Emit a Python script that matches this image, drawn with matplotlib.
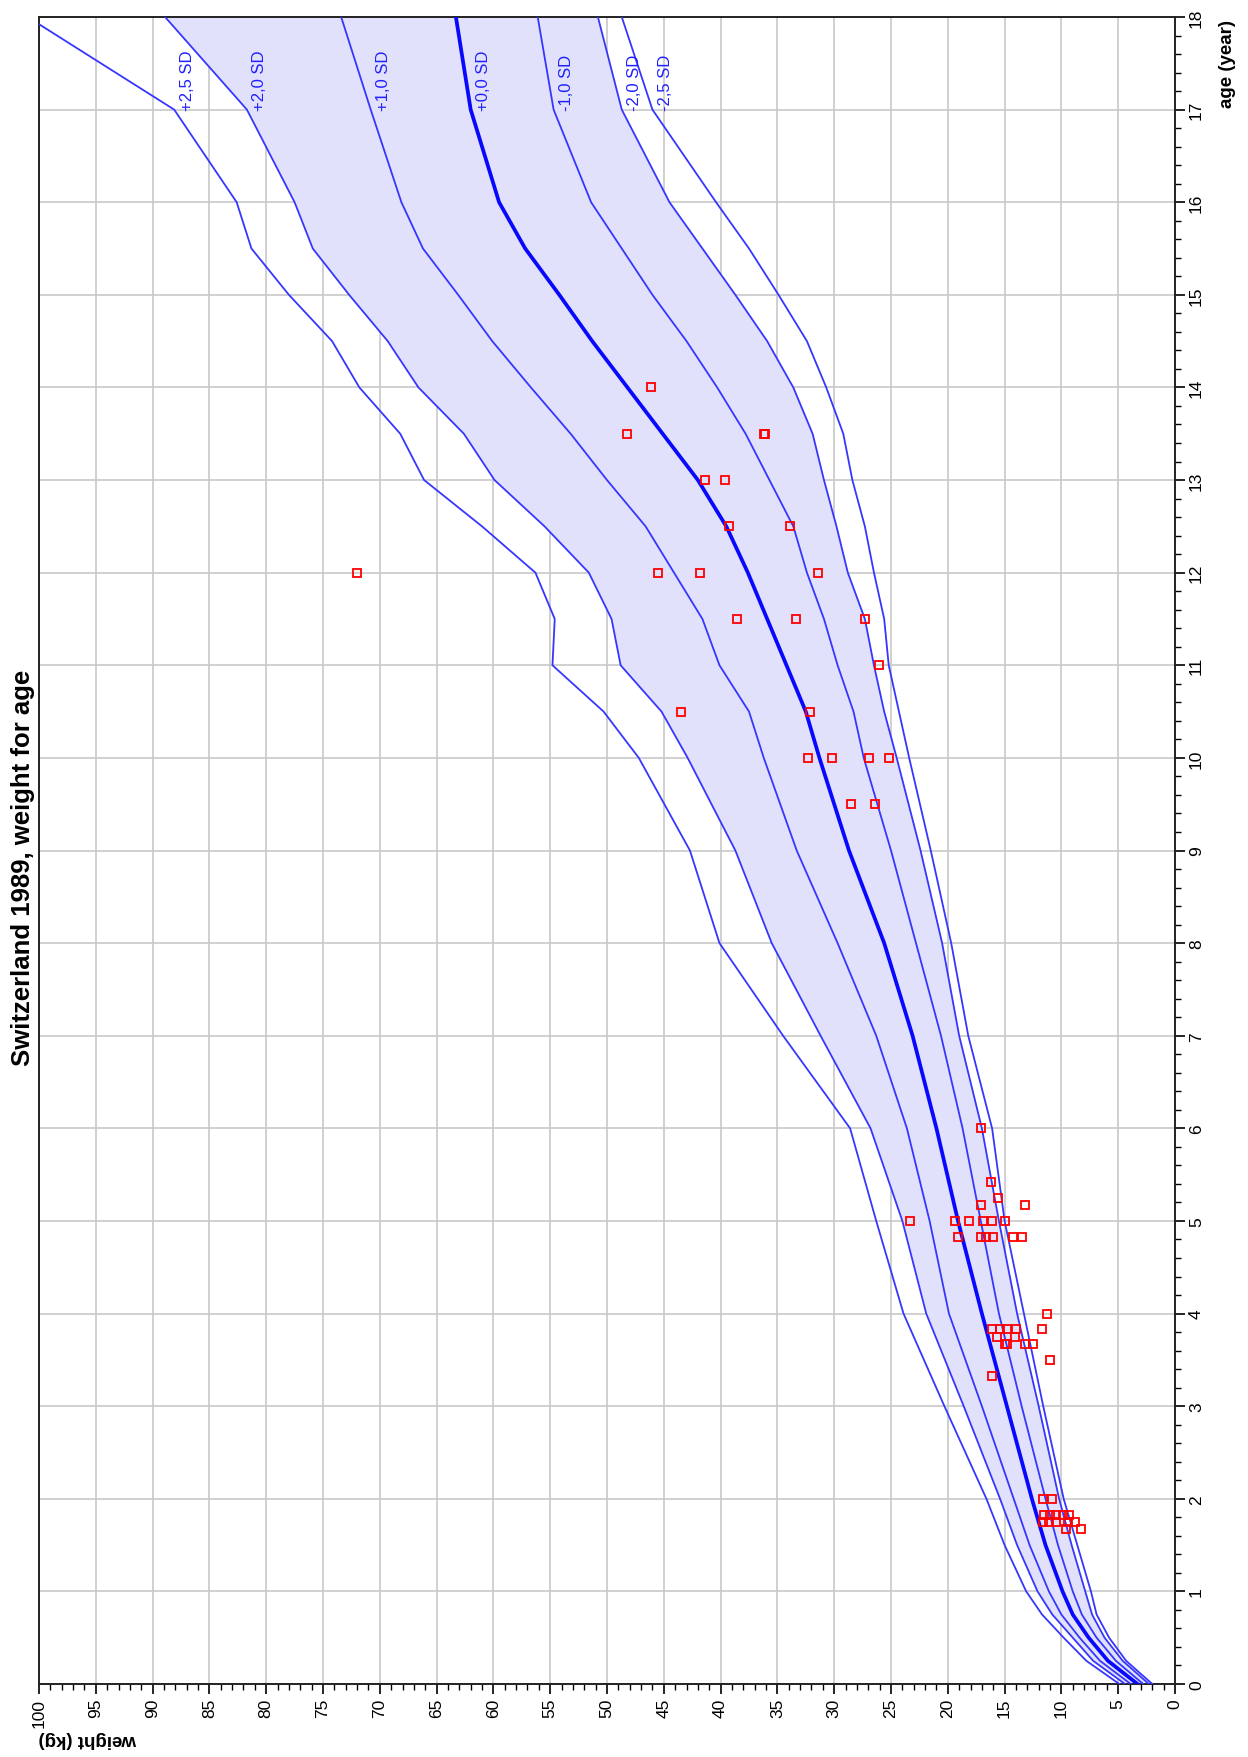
import matplotlib.pyplot as plt
from matplotlib.ticker import MultipleLocator

plt.rcParams['font.family'] = ['Liberation Sans', 'DejaVu Sans']

# reference ages (years)
ages = [0, 0.25, 0.5, 0.75, 1, 1.5, 2, 3, 4, 5, 6, 7, 8, 9, 10, 10.5, 11, 11.5,
        12, 12.5, 13, 13.5, 14, 14.5, 15, 15.5, 16, 17, 18]

# reference weights (kg) for each SD curve
sd_p25 = [4.9, 7.8, 9.8, 11.7, 13.1, 15.0, 16.6, 20.3, 23.9, 26.3, 28.6, 34.5, 40.1, 42.7, 47.2, 50.3, 54.8, 54.6,
          56.3, 61.0, 66.1, 68.2, 71.8, 74.2, 78.0, 81.3, 82.6, 88.1, 101.0]
sd_p20 = [4.4, 7.2, 9.0, 10.8, 12.1, 13.9, 15.4, 18.6, 21.9, 24.0, 26.8, 31.2, 35.5, 38.7, 42.9, 45.2, 48.8, 49.6,
          51.6, 55.5, 59.9, 62.6, 66.6, 69.3, 72.7, 75.9, 77.5, 81.7, 88.9]
sd_p10 = [3.9, 6.6, 8.4, 10.0, 11.1, 12.8, 14.2, 17.0, 19.9, 21.6, 23.6, 26.3, 29.7, 33.3, 36.2, 37.5, 40.1, 41.6,
          44.1, 46.6, 50.0, 53.2, 56.7, 60.1, 63.1, 66.2, 68.1, 70.8, 73.4]
sd_00 = [3.3, 5.9, 7.6, 9.0, 9.9, 11.4, 12.6, 14.8, 17.0, 19.1, 21.0, 23.1, 25.6, 28.7, 31.3, 32.5, 34.2, 35.9,
         37.6, 39.5, 42.0, 45.1, 48.2, 51.3, 54.2, 57.2, 59.5, 62.0, 63.3]
sd_m10 = [2.8, 5.2, 6.9, 8.2, 9.0, 10.3, 11.4, 13.5, 15.5, 17.1, 18.7, 20.6, 22.8, 25.0, 27.4, 28.3, 29.7, 30.9,
          32.4, 33.6, 35.7, 37.8, 40.3, 43.0, 46.0, 48.7, 51.4, 54.7, 56.1]
sd_m20 = [2.3, 4.6, 6.2, 7.3, 7.9, 9.1, 10.2, 12.0, 13.9, 15.5, 17.0, 19.0, 20.5, 22.4, 24.5, 25.6, 26.5, 27.3,
          28.8, 29.8, 30.9, 31.9, 33.6, 35.9, 38.7, 41.6, 44.5, 48.7, 50.8]
sd_m25 = [2.0, 4.3, 5.8, 6.9, 7.4, 8.6, 9.8, 11.6, 13.3, 15.0, 16.1, 18.2, 19.7, 21.5, 23.4, 24.3, 25.2, 25.6,
          26.5, 27.3, 28.4, 29.2, 30.7, 32.4, 34.9, 37.5, 40.4, 46.0, 48.7]

sd_labels = ['+2,5 SD', '+2,0 SD', '+1,0 SD', '+0,0 SD', '-1,0 SD', '-2,0 SD', '-2,5 SD']

# measured children
pt_age = [14, 13.5, 13.5, 13.5, 13, 13, 12.5, 12.5, 12, 12, 12, 12, 11.5, 11.5, 11.5, 11,
          10.5, 10.5, 10, 10, 10, 10, 9.5, 9.5,
          6, 5.42, 5.25, 5.17, 5.17, 5, 5, 5, 5, 5, 5,
          4.83, 4.83, 4.83, 4.83, 4.83, 4.83,
          4, 3.83, 3.83, 3.83, 3.83, 3.83, 3.75, 3.75, 3.67, 3.67, 3.67, 3.67, 3.5, 3.33,
          2, 2, 1.83, 1.83, 1.83, 1.83, 1.83, 1.75, 1.75, 1.75, 1.75, 1.75, 1.67, 1.67]
pt_weight = [46.1, 48.2, 36.2, 36.1, 41.4, 39.6, 39.3, 33.9, 72.0, 45.5, 41.8, 31.4, 38.6, 33.4, 27.3, 26.1,
             43.5, 32.1, 32.3, 30.2, 26.9, 25.2, 28.5, 26.4,
             17.1, 16.2, 15.6, 17.1, 13.2, 23.3, 19.4, 18.1, 16.9, 16.1, 15.0,
             19.1, 17.1, 16.6, 16.0, 14.3, 13.5,
             11.3, 16.1, 15.4, 14.8, 14.0, 11.7, 15.7, 14.1, 15.0, 14.8, 13.2, 12.5, 11.0, 16.1,
             11.6, 10.8, 11.5, 11.0, 10.5, 9.9, 9.3, 11.6, 11.1, 10.5, 9.4, 8.8, 9.6, 8.3]

W, H = 1248, 1758
fig = plt.figure(figsize=(W / 100, H / 100), dpi=100)
# the chart is drawn turned on its side: weight runs right-to-left, age bottom-to-top
ax = fig.add_axes([39 / W, 1 - 1685 / H, (1175 - 39) / W, (1685 - 18) / H])

line_col = '#3636ff'
ax.fill_betweenx(ages, sd_m20, sd_p20, color='#e1e1fb', lw=0, zorder=1)

curves = [sd_p25, sd_p20, sd_p10, sd_00, sd_m10, sd_m20, sd_m25]
for curve, lab in zip(curves, sd_labels):
    thick = lab == '+0,0 SD'
    ax.plot(curve, ages, color='#0808ff' if thick else line_col,
            lw=2.7 if thick else 1.3, zorder=3)
    w17 = curve[ages.index(17)]
    ax.annotate(lab, xy=(w17, 17), xytext=(4, 0), textcoords='offset points',
                rotation=90, ha='left', va='bottom', color='#2020ff', fontsize=12,
                zorder=4)

ax.plot(pt_weight, pt_age, ls='none', marker='s', ms=5.5, mfc='none', mec='red',
        mew=1.3, zorder=5)

ax.set_xlim(100, 0)
ax.set_ylim(0, 18)
ax.xaxis.set_major_locator(MultipleLocator(5))
ax.xaxis.set_minor_locator(MultipleLocator(1))
ax.yaxis.set_major_locator(MultipleLocator(1))
ax.yaxis.set_minor_locator(MultipleLocator(0.2))
ax.yaxis.tick_right()
ax.grid(True, which='major', color='#c8c8c8', lw=1.2, zorder=0)
ax.set_axisbelow(True)

ax.tick_params(axis='both', which='major', direction='out', length=7, width=1.2,
               labelsize=12.5, pad=3)
ax.tick_params(axis='both', which='minor', direction='out', length=4, width=1.0)
for t in ax.get_xticklabels():
    t.set_rotation(90)
for t in ax.get_yticklabels():
    t.set_rotation(90)
    t.set_va('center')
for s in ax.spines.values():
    s.set_linewidth(1.4)
    s.set_color('#222222')

# titles, turned like the rest of the chart
fig.text(23 / W, 1 - 868 / H, 'Switzerland 1989, weight for age', rotation=90,
         ha='center', va='center', fontsize=18.5, fontweight='bold')
fig.text(39 / W, 1 - 1740 / H, 'weight (kg)', rotation=180, ha='left', va='center',
         fontsize=13.5, fontweight='bold')
fig.text(1228 / W, 1 - 20 / H, 'age (year)', rotation=90, ha='center', va='top',
         fontsize=13.5, fontweight='bold')

fig.savefig('out.png', dpi=100)
